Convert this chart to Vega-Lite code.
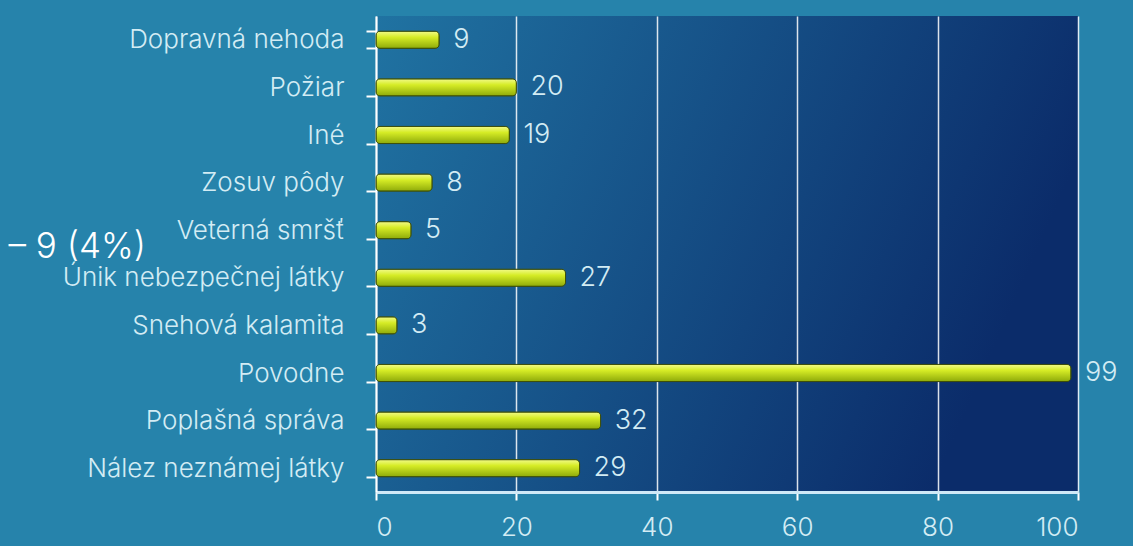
{
  "$schema": "https://vega.github.io/schema/vega-lite/v6.json",
  "width": 702,
  "height": 476,
  "autosize": {"type": "none"},
  "padding": {"left": 376, "top": 16, "right": 55, "bottom": 54},
  "background": "#2683ab",
  "config": {
    "font": "Inter",
    "view": {
      "stroke": null,
      "fill": {"gradient": "linear", "x1": 0, "y1": 0, "x2": 1, "y2": 0.3,
        "stops": [{"offset": 0, "color": "#2073a2"}, {"offset": 1, "color": "#0b2c6a"}]}
    }
  },
  "data": {"values": [
    {"type": "Dopravná nehoda", "count": 9},
    {"type": "Požiar", "count": 20},
    {"type": "Iné", "count": 19},
    {"type": "Zosuv pôdy", "count": 8},
    {"type": "Veterná smršť", "count": 5},
    {"type": "Únik nebezpečnej látky", "count": 27},
    {"type": "Snehová kalamita", "count": 3},
    {"type": "Povodne", "count": 99},
    {"type": "Poplašná správa", "count": 32},
    {"type": "Nález neznámej látky", "count": 29}
  ]},
  "encoding": {
    "y": {
      "field": "type", "type": "nominal", "sort": null,
      "scale": {"paddingInner": 0.64, "paddingOuter": 0.32},
      "axis": {
        "title": "– 9 (4%)",
        "titleAngle": 0, "titleAlign": "left", "titleBaseline": "middle",
        "titleX": -368, "titleY": 230, "titleFontSize": 35, "titleFontWeight": 300,
        "titleColor": "#ffffff", "titleFont": "Inter",
        "labelFontSize": 26, "labelColor": "#d3ecf4", "labelFontWeight": 300, "labelPadding": 22,
        "labelLimit": 400, "labelFont": "Inter",
        "ticks": true, "tickBand": "extent", "tickSize": 10, "tickColor": "#ffffff", "tickWidth": 2,
        "domain": true, "domainColor": "#ffffff", "domainWidth": 2, "grid": false
      }
    },
    "x": {
      "field": "count", "type": "quantitative",
      "scale": {"domain": [0, 100]},
      "axis": {
        "title": null, "values": [0, 20, 40, 60, 80, 100],
        "grid": true, "gridColor": "#ffffff", "gridWidth": 1.5, "gridOpacity": 0.85,
        "domainColor": "#cfe9f7", "domainWidth": 3,
        "tickColor": "#ffffff", "tickSize": 8, "tickWidth": 2,
        "labelFontSize": 26, "labelColor": "#d3ecf4", "labelFontWeight": 300, "labelPadding": 14,
        "labelFont": "Inter"
      }
    }
  },
  "layer": [
    {
      "mark": {
        "type": "bar", "cornerRadius": 4, "stroke": "#3f4f06", "strokeWidth": 1,
        "color": {"gradient": "linear", "x1": 0, "y1": 0, "x2": 0, "y2": 1,
          "stops": [{"offset": 0, "color": "#f2fa8a"}, {"offset": 0.35, "color": "#d6ec26"}, {"offset": 1, "color": "#8eaa0a"}]}
      }
    },
    {
      "mark": {"type": "text", "align": "left", "baseline": "middle", "dx": 14, "fontSize": 27, "fontWeight": 300, "color": "#d3ecf4", "font": "Inter"},
      "encoding": {"text": {"field": "count", "type": "quantitative"}}
    }
  ]
}
